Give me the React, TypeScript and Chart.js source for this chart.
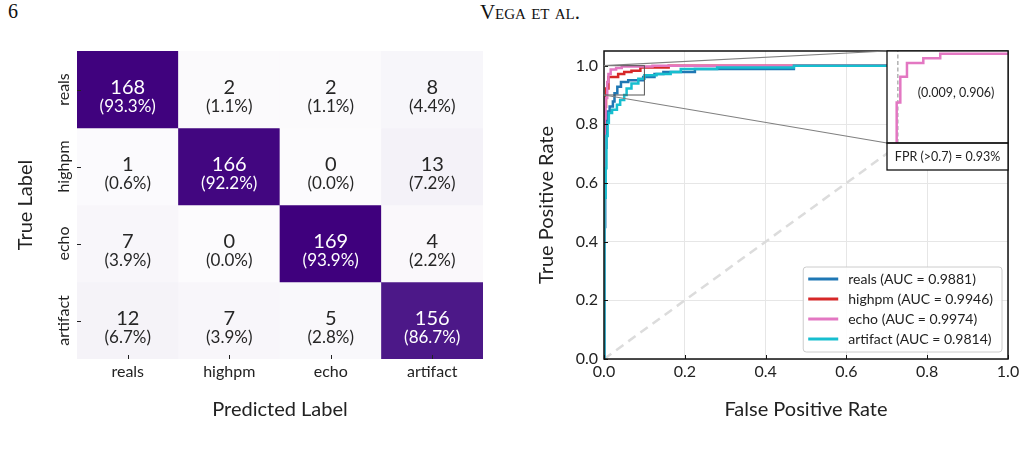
import React, { useEffect, useRef } from "react";
import { Chart, registerables } from "chart.js";

Chart.register(...registerables);

const FONT = "Lato";
const INK = "#222222";
Chart.defaults.font.family = FONT;
Chart.defaults.color = INK;

// ---------- Confusion matrix (rows: true label, columns: predicted label) ----------
const CLASSES = ["reals", "highpm", "echo", "artifact"];
const ROW_REALS = [168, 2, 2, 8];
const ROW_HIGHPM = [1, 166, 0, 13];
const ROW_ECHO = [7, 0, 169, 4];
const ROW_ARTIFACT = [12, 7, 5, 156];
const CONFUSION = [ROW_REALS, ROW_HIGHPM, ROW_ECHO, ROW_ARTIFACT];

// ---------- ROC curves ----------
const REALS_FPR = [0, 0, 0.003, 0.003, 0.006, 0.006, 0.008, 0.008, 0.014, 0.014, 0.022, 0.022, 0.026, 0.026, 0.033, 0.033, 0.042, 0.042, 0.06, 0.06, 0.097, 0.097, 0.125, 0.125, 0.147, 0.147, 0.225, 0.225, 0.47, 0.47, 1];
const REALS_TPR = [0, 0.45, 0.45, 0.72, 0.72, 0.8, 0.8, 0.844, 0.844, 0.861, 0.861, 0.878, 0.878, 0.906, 0.906, 0.928, 0.928, 0.944, 0.944, 0.95, 0.95, 0.961, 0.961, 0.972, 0.972, 0.978, 0.978, 0.989, 0.989, 1, 1];

const HIGHPM_FPR = [0, 0, 0.002, 0.002, 0.005, 0.005, 0.011, 0.011, 0.035, 0.035, 0.05, 0.05, 0.068, 0.068, 0.09, 0.09, 0.16, 0.16, 1];
const HIGHPM_TPR = [0, 0.55, 0.55, 0.86, 0.86, 0.922, 0.922, 0.961, 0.961, 0.972, 0.972, 0.978, 0.978, 0.983, 0.983, 0.994, 0.994, 1, 1];

const ECHO_FPR = [0, 0, 0.002, 0.002, 0.004, 0.004, 0.008, 0.008, 0.011, 0.011, 0.0165, 0.0165, 0.03, 0.03, 0.044, 0.044, 0.12, 0.12, 1];
const ECHO_TPR = [0, 0.62, 0.62, 0.82, 0.82, 0.89, 0.89, 0.944, 0.944, 0.972, 0.972, 0.987, 0.987, 0.992, 0.992, 0.997, 0.997, 1, 1];

const ARTIFACT_FPR = [0, 0, 0.002, 0.002, 0.004, 0.004, 0.006, 0.006, 0.009, 0.009, 0.012, 0.012, 0.02, 0.02, 0.032, 0.032, 0.04, 0.04, 0.05, 0.05, 0.056, 0.056, 0.068, 0.068, 0.085, 0.085, 0.1, 0.1, 0.13, 0.13, 0.165, 0.165, 0.19, 0.19, 0.28, 0.28, 0.47, 0.47, 1];
const ARTIFACT_TPR = [0, 0.3, 0.3, 0.55, 0.55, 0.65, 0.65, 0.76, 0.76, 0.805, 0.805, 0.839, 0.839, 0.85, 0.85, 0.867, 0.867, 0.883, 0.883, 0.9, 0.9, 0.922, 0.922, 0.939, 0.939, 0.955, 0.955, 0.967, 0.967, 0.972, 0.972, 0.978, 0.978, 0.989, 0.989, 0.994, 0.994, 1, 1];

const AUC = [0.9881, 0.9946, 0.9974, 0.9814];
const ROC_COLORS = ["#1f77b4", "#d62728", "#e377c2", "#17becf"];
const ROC_TICKS = [0, 0.2, 0.4, 0.6, 0.8, 1.0];

// zoomed region shown in the inset, and the highlighted echo operating point
const ZOOM_FPR = [0, 0.1];
const ZOOM_TPR = [0.9, 1.0];
const ECHO_POINT = [0.009, 0.906];
const FPR_ABOVE_07 = 0.93;

// ---------- layout (pixels) ----------
const HEAT_W = 520;
const ROC_LEFT = 520;
const ROC_W = 505;
const H = 450;
const INSET = { left: 887, top: 51, width: 121, height: 92, boxH: 27 };
const INSET_PAD = 2;

const PURPLES = ["#fcfbfd", "#efedf5", "#dadaeb", "#bcbddc", "#9e9ac8", "#807dba", "#6a51a3", "#54278f", "#3f007d"];
function hexRgb(h: string) {
  return [1, 3, 5].map((i) => parseInt(h.slice(i, i + 2), 16));
}
function purples(t: number) {
  const s = Math.min(Math.max(t, 0), 1) * (PURPLES.length - 1);
  const i = Math.min(Math.floor(s), PURPLES.length - 2);
  const f = s - i;
  const a = hexRgb(PURPLES[i]);
  const b = hexRgb(PURPLES[i + 1]);
  const c = a.map((v, k) => Math.round(v + (b[k] - v) * f));
  return `rgb(${c[0]},${c[1]},${c[2]})`;
}

const zip = (xs: number[], ys: number[]) => xs.map((x, i) => ({ x, y: ys[i] }));

// ---------- confusion-matrix heatmap ----------
function heatConfig(): any {
  const all = CONFUSION.flat();
  const vmin = Math.min(...all);
  const vmax = Math.max(...all);
  const norm = (v: number) => (v - vmin) / (vmax - vmin);

  const cellText = {
    id: "cellText",
    afterDatasetsDraw(chart: any) {
      const { ctx, chartArea, scales } = chart;
      const x = scales.x;
      const y = scales.y;
      ctx.save();
      ctx.textAlign = "center";
      ctx.textBaseline = "middle";
      CONFUSION.forEach((row, r) => {
        const total = row.reduce((a, b) => a + b, 0);
        const cy = y.getPixelForValue(r + 0.5);
        row.forEach((v, c) => {
          const cx = x.getPixelForValue(c);
          ctx.fillStyle = norm(v) > 0.6 ? "#ffffff" : "#262626";
          ctx.font = `20px ${FONT}`;
          ctx.fillText(String(v), cx, cy - 2);
          ctx.font = `17px ${FONT}`;
          ctx.fillText(`(${((v / total) * 100).toFixed(1)}%)`, cx, cy + 17);
        });
      });
      // inward tick marks
      ctx.strokeStyle = INK;
      ctx.lineWidth = 1;
      CLASSES.forEach((_, i) => {
        const px = Math.round(x.getPixelForValue(i)) + 0.5;
        ctx.beginPath();
        ctx.moveTo(px, chartArea.bottom);
        ctx.lineTo(px, chartArea.bottom - 4);
        ctx.stroke();
        const py = Math.round(y.getPixelForValue(i + 0.5)) + 0.5;
        ctx.beginPath();
        ctx.moveTo(chartArea.left, py);
        ctx.lineTo(chartArea.left + 4, py);
        ctx.stroke();
      });
      // rotated row labels
      ctx.fillStyle = INK;
      ctx.font = `16px ${FONT}`;
      CLASSES.forEach((name, r) => {
        const cy = y.getPixelForValue(r + 0.5);
        ctx.save();
        ctx.translate(chartArea.left - 13, cy);
        ctx.rotate(-Math.PI / 2);
        ctx.fillText(name, 0, 0);
        ctx.restore();
      });
      ctx.restore();
    },
  };

  return {
    type: "bar",
    data: {
      labels: CLASSES,
      datasets: CONFUSION.map((row, r) => ({
        label: CLASSES[r],
        data: row.map(() => [r, r + 1]),
        backgroundColor: row.map((v) => purples(norm(v))),
        borderWidth: 0,
        barPercentage: 1,
        categoryPercentage: 1,
        grouped: false,
      })),
    },
    options: {
      responsive: false,
      animation: false,
      layout: { padding: { top: 51, right: 37, left: 0, bottom: 0 } },
      plugins: { legend: { display: false }, tooltip: { enabled: false } },
      scales: {
        x: {
          type: "category",
          offset: true,
          grid: { display: false, drawTicks: false },
          border: { display: false },
          ticks: { font: { size: 16 }, color: INK, padding: 3 },
          title: { display: true, text: "Predicted Label", font: { size: 20 }, color: INK, padding: { top: 0, bottom: 28 } },
          afterFit: (s: any) => {
            s.height = 91;
          },
        },
        y: {
          type: "linear",
          min: 0,
          max: CLASSES.length,
          reverse: true,
          grid: { display: false, drawTicks: false },
          border: { display: false },
          ticks: { display: false },
          title: { display: true, text: "True Label", font: { size: 20 }, color: INK, padding: { top: 14, bottom: 0 } },
          afterFit: (s: any) => {
            s.width = 77;
          },
        },
      },
    },
    plugins: [cellText],
  };
}

// ---------- ROC curves ----------
function rocConfig(): any {
  const curves = [
    zip(REALS_FPR, REALS_TPR),
    zip(HIGHPM_FPR, HIGHPM_TPR),
    zip(ECHO_FPR, ECHO_TPR),
    zip(ARTIFACT_FPR, ARTIFACT_TPR),
  ];

  const decorations = {
    id: "rocDecorations",
    afterDatasetsDraw(chart: any) {
      const { ctx, chartArea, scales } = chart;
      const x = scales.x;
      const y = scales.y;
      ctx.save();
      // frame
      ctx.strokeStyle = "#111111";
      ctx.lineWidth = 1.5;
      ctx.strokeRect(chartArea.left, chartArea.top, chartArea.right - chartArea.left, chartArea.bottom - chartArea.top);
      // inward ticks
      ctx.lineWidth = 1;
      ROC_TICKS.forEach((v) => {
        const px = Math.round(x.getPixelForValue(v)) + 0.5;
        ctx.beginPath();
        ctx.moveTo(px, chartArea.bottom);
        ctx.lineTo(px, chartArea.bottom - 4);
        ctx.stroke();
        const py = Math.round(y.getPixelForValue(v)) + 0.5;
        ctx.beginPath();
        ctx.moveTo(chartArea.left, py);
        ctx.lineTo(chartArea.left + 4, py);
        ctx.stroke();
      });
      // zoomed region
      const zx0 = x.getPixelForValue(ZOOM_FPR[0]);
      const zx1 = x.getPixelForValue(ZOOM_FPR[1]);
      const zy0 = y.getPixelForValue(ZOOM_TPR[0]);
      const zy1 = y.getPixelForValue(ZOOM_TPR[1]);
      ctx.strokeStyle = "#555555";
      ctx.lineWidth = 1;
      ctx.strokeRect(zx0, zy1, zx1 - zx0, zy0 - zy1);
      // connectors to the inset
      const ix = INSET.left - ROC_LEFT;
      ctx.strokeStyle = "#808080";
      ctx.lineWidth = 1.2;
      ctx.beginPath();
      ctx.moveTo(zx0, zy1);
      ctx.lineTo(ix, INSET.top);
      ctx.moveTo(zx0, zy0);
      ctx.lineTo(ix, INSET.top + INSET.height);
      ctx.stroke();

      // legend
      const items = chart.data.datasets.filter((d: any) => d.label);
      ctx.font = `14px ${FONT}`;
      const textW = Math.max(...items.map((d: any) => ctx.measureText(d.label).width));
      const rowH = 20;
      const w = 45 + textW + 9;
      const h = rowH * items.length + 5;
      const right = chartArea.right - 6;
      const bottom = chartArea.bottom - 7;
      const left = right - w;
      const top = bottom - h;
      const r = 3;
      ctx.beginPath();
      ctx.moveTo(left + r, top);
      ctx.arcTo(right, top, right, bottom, r);
      ctx.arcTo(right, bottom, left, bottom, r);
      ctx.arcTo(left, bottom, left, top, r);
      ctx.arcTo(left, top, right, top, r);
      ctx.closePath();
      ctx.fillStyle = "rgba(255,255,255,0.85)";
      ctx.fill();
      ctx.strokeStyle = "#cccccc";
      ctx.lineWidth = 1;
      ctx.stroke();
      ctx.textAlign = "left";
      ctx.textBaseline = "middle";
      items.forEach((d: any, i: number) => {
        const cy = top + 12 + i * rowH;
        ctx.strokeStyle = d.borderColor;
        ctx.lineWidth = 3;
        ctx.beginPath();
        ctx.moveTo(left + 5, cy);
        ctx.lineTo(left + 35, cy);
        ctx.stroke();
        ctx.fillStyle = INK;
        ctx.fillText(d.label, left + 45, cy);
      });
      ctx.restore();
    },
  };

  return {
    type: "scatter",
    data: {
      datasets: [
        ...curves.map((pts, i) => ({
          label: `${CLASSES[i]} (AUC = ${AUC[i].toFixed(4)})`,
          data: pts,
          showLine: true,
          borderColor: ROC_COLORS[i],
          backgroundColor: ROC_COLORS[i],
          borderWidth: 2.5,
          pointRadius: 0,
          tension: 0,
          order: curves.length - i,
        })),
        {
          label: "",
          data: [
            { x: 0, y: 0 },
            { x: 1, y: 1 },
          ],
          showLine: true,
          borderColor: "#dcdcdc",
          borderWidth: 2.5,
          borderDash: [9, 6],
          pointRadius: 0,
          order: 10,
        },
      ],
    },
    options: {
      responsive: false,
      animation: false,
      layout: { padding: { top: 51, right: 17, left: 0, bottom: 0 } },
      plugins: { legend: { display: false }, tooltip: { enabled: false } },
      scales: {
        x: {
          type: "linear",
          min: 0,
          max: 1,
          afterBuildTicks: (s: any) => {
            s.ticks = ROC_TICKS.map((value) => ({ value }));
          },
          ticks: { font: { size: 16 }, color: INK, padding: 3, callback: (v: any) => Number(v).toFixed(1) },
          grid: { color: "#e6e6e6", lineWidth: 1, drawTicks: false },
          border: { display: false },
          title: { display: true, text: "False Positive Rate", font: { size: 20 }, color: INK, padding: { top: 0, bottom: 28 } },
          afterFit: (s: any) => {
            s.height = 91;
          },
        },
        y: {
          type: "linear",
          min: 0,
          max: 1.05,
          afterBuildTicks: (s: any) => {
            s.ticks = ROC_TICKS.map((value) => ({ value }));
          },
          ticks: { font: { size: 16 }, color: INK, padding: 6, callback: (v: any) => Number(v).toFixed(1) },
          grid: { color: "#e6e6e6", lineWidth: 1, drawTicks: false },
          border: { display: false },
          title: { display: true, text: "True Positive Rate", font: { size: 20 }, color: INK, padding: { top: 15, bottom: 0 } },
          afterFit: (s: any) => {
            s.width = 84;
          },
        },
      },
    },
    plugins: [decorations],
  };
}

// ---------- inset: echo curve in the zoomed region ----------
function insetConfig(): any {
  const insetDecor = {
    id: "insetDecor",
    beforeDraw(chart: any) {
      const { ctx, chartArea } = chart;
      ctx.save();
      ctx.fillStyle = "#ffffff";
      ctx.fillRect(chartArea.left, chartArea.top, chartArea.right - chartArea.left, chartArea.bottom - chartArea.top + INSET.boxH);
      ctx.restore();
    },
    afterDraw(chart: any) {
      const { ctx, chartArea } = chart;
      const w = chartArea.right - chartArea.left;
      const h = chartArea.bottom - chartArea.top;
      ctx.save();
      ctx.strokeStyle = "#111111";
      ctx.lineWidth = 1.3;
      ctx.strokeRect(chartArea.left, chartArea.top, w, h);
      ctx.strokeRect(chartArea.left, chartArea.bottom, w, INSET.boxH);
      ctx.fillStyle = INK;
      ctx.textAlign = "center";
      ctx.textBaseline = "middle";
      ctx.font = `12.5px ${FONT}`;
      ctx.fillText(
        `(${ECHO_POINT[0].toFixed(3)}, ${ECHO_POINT[1].toFixed(3)})`,
        chartArea.left + w * 0.57,
        chartArea.top + h * 0.46
      );
      ctx.fillText(`FPR (>0.7) = ${FPR_ABOVE_07.toFixed(2)}%`, chartArea.left + w / 2, chartArea.bottom + INSET.boxH / 2 + 0.5);
      ctx.restore();
    },
  };

  return {
    type: "scatter",
    data: {
      datasets: [
        {
          label: "echo",
          data: zip(ECHO_FPR, ECHO_TPR),
          showLine: true,
          borderColor: ROC_COLORS[2],
          borderWidth: 2.5,
          pointRadius: 0,
          tension: 0,
          order: 1,
        },
        {
          label: "operating point",
          data: [
            { x: ECHO_POINT[0], y: ZOOM_TPR[0] },
            { x: ECHO_POINT[0], y: ZOOM_TPR[1] },
          ],
          showLine: true,
          borderColor: "#8a8a8a",
          borderWidth: 1,
          borderDash: [4, 2.5],
          pointRadius: 0,
          order: 2,
        },
      ],
    },
    options: {
      responsive: false,
      animation: false,
      layout: { padding: { top: INSET_PAD, left: INSET_PAD, right: INSET_PAD, bottom: INSET_PAD + INSET.boxH } },
      plugins: { legend: { display: false }, tooltip: { enabled: false } },
      scales: {
        x: { type: "linear", min: ZOOM_FPR[0], max: ZOOM_FPR[1], display: false },
        y: { type: "linear", min: ZOOM_TPR[0], max: ZOOM_TPR[1], display: false },
      },
    },
    plugins: [insetDecor],
  };
}

export default function App() {
  const heatRef = useRef<HTMLCanvasElement>(null);
  const rocRef = useRef<HTMLCanvasElement>(null);
  const insetRef = useRef<HTMLCanvasElement>(null);

  useEffect(() => {
    const charts = [
      new Chart(heatRef.current as HTMLCanvasElement, heatConfig()),
      new Chart(rocRef.current as HTMLCanvasElement, rocConfig()),
      new Chart(insetRef.current as HTMLCanvasElement, insetConfig()),
    ];
    return () => charts.forEach((c) => c.destroy());
  }, []);

  const insetW = INSET.width + 2 * INSET_PAD;
  const insetH = INSET.height + INSET.boxH + 2 * INSET_PAD;

  return (
    <div style={{ position: "fixed", left: 0, top: 0, width: 1025, height: H, background: "#ffffff", overflow: "hidden" }}>
      <div style={{ position: "absolute", left: 8, top: 0, fontFamily: '"Liberation Serif", serif', fontSize: 20, color: "#111" }}>6</div>
      <div
        style={{
          position: "absolute",
          left: 430,
          width: 200,
          top: 0,
          textAlign: "center",
          fontFamily: '"Liberation Serif", serif',
          fontSize: 21,
          fontVariant: "small-caps",
          color: "#111",
        }}
      >
        Vega et al.
      </div>
      <canvas ref={heatRef} width={HEAT_W} height={H} style={{ position: "absolute", left: 0, top: 0, width: HEAT_W, height: H }} />
      <canvas ref={rocRef} width={ROC_W} height={H} style={{ position: "absolute", left: ROC_LEFT, top: 0, width: ROC_W, height: H }} />
      <canvas
        ref={insetRef}
        width={insetW}
        height={insetH}
        style={{ position: "absolute", left: INSET.left - INSET_PAD, top: INSET.top - INSET_PAD, width: insetW, height: insetH }}
      />
    </div>
  );
}
